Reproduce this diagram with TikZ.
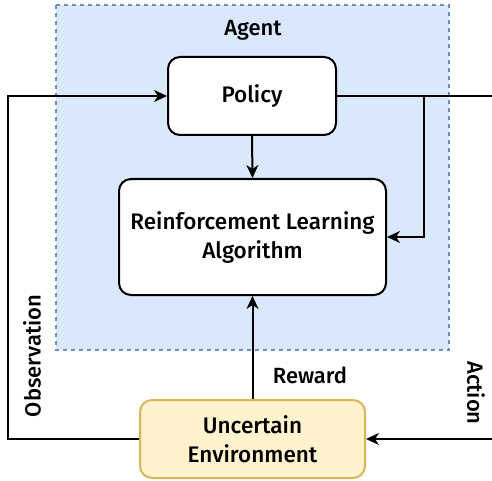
\documentclass[tikz,border=0pt]{standalone}
\usepackage{fontspec}
\setmainfont{Fira Sans}[UprightFont=* Medium]
\usetikzlibrary{arrows.meta}
\definecolor{agentfill}{HTML}{DAE8FC}
\definecolor{agentline}{HTML}{6C8EBF}
\definecolor{envfill}{HTML}{FFF2CC}
\definecolor{envline}{HTML}{D6B656}
\tikzset{
  box/.style={draw=black, line width=2pt, fill=white, rounded corners=12pt, align=center, inner sep=0pt, font=\fontsize{22.5}{29}\selectfont},
  lbl/.style={font=\fontsize{22}{25}\selectfont, inner sep=0pt},
  conn/.style={line width=2pt, draw=black},
  arr/.style={conn, -{Stealth[length=13pt, width=12pt, inset=4pt]}},
}
\begin{document}
\begin{tikzpicture}[x=1pt, y=-1pt]
\useasboundingbox (0,0) rectangle (492,481);
\draw[fill=agentfill, draw=agentline, line width=1.5pt, dash pattern=on 4pt off 4pt] (56,5) rectangle (449,350);
\node[lbl] (agent) at (253,30) {Agent};
\node[box, minimum width=168pt, minimum height=78pt] (pol) at (252,96) {Policy};
\node[box, minimum width=267pt, minimum height=116pt] (rl) at (252.5,237) {Reinforcement Learning\\Algorithm};
\node[box, fill=envfill, draw=envline, minimum width=225pt, minimum height=78pt] (env) at (252.5,439) {Uncertain\\Environment};
\coordinate (obsB) at (8,439);
\coordinate (obsT) at (8,96);
\coordinate (rEdge) at (492,96);
\coordinate (br) at (424,96);
\coordinate (actR) at (492,439);
\draw[arr] (env.west) -- (obsB) -- (obsT) -- (pol.west);
\draw[conn] (pol.east) -- (rEdge);
\draw[arr] (br) |- (rl.east);
\draw[arr] (pol.south) -- (rl.north);
\draw[arr] (env.north) -- (rl.south);
\draw[arr] (actR) -- (env.east);
\node[lbl] (reward) at (310,375) {Reward};
\node[lbl, rotate=90] (obs) at (32,356) {Observation};
\node[lbl, rotate=-90] (act) at (476,393) {Action};
\end{tikzpicture}
\end{document}
